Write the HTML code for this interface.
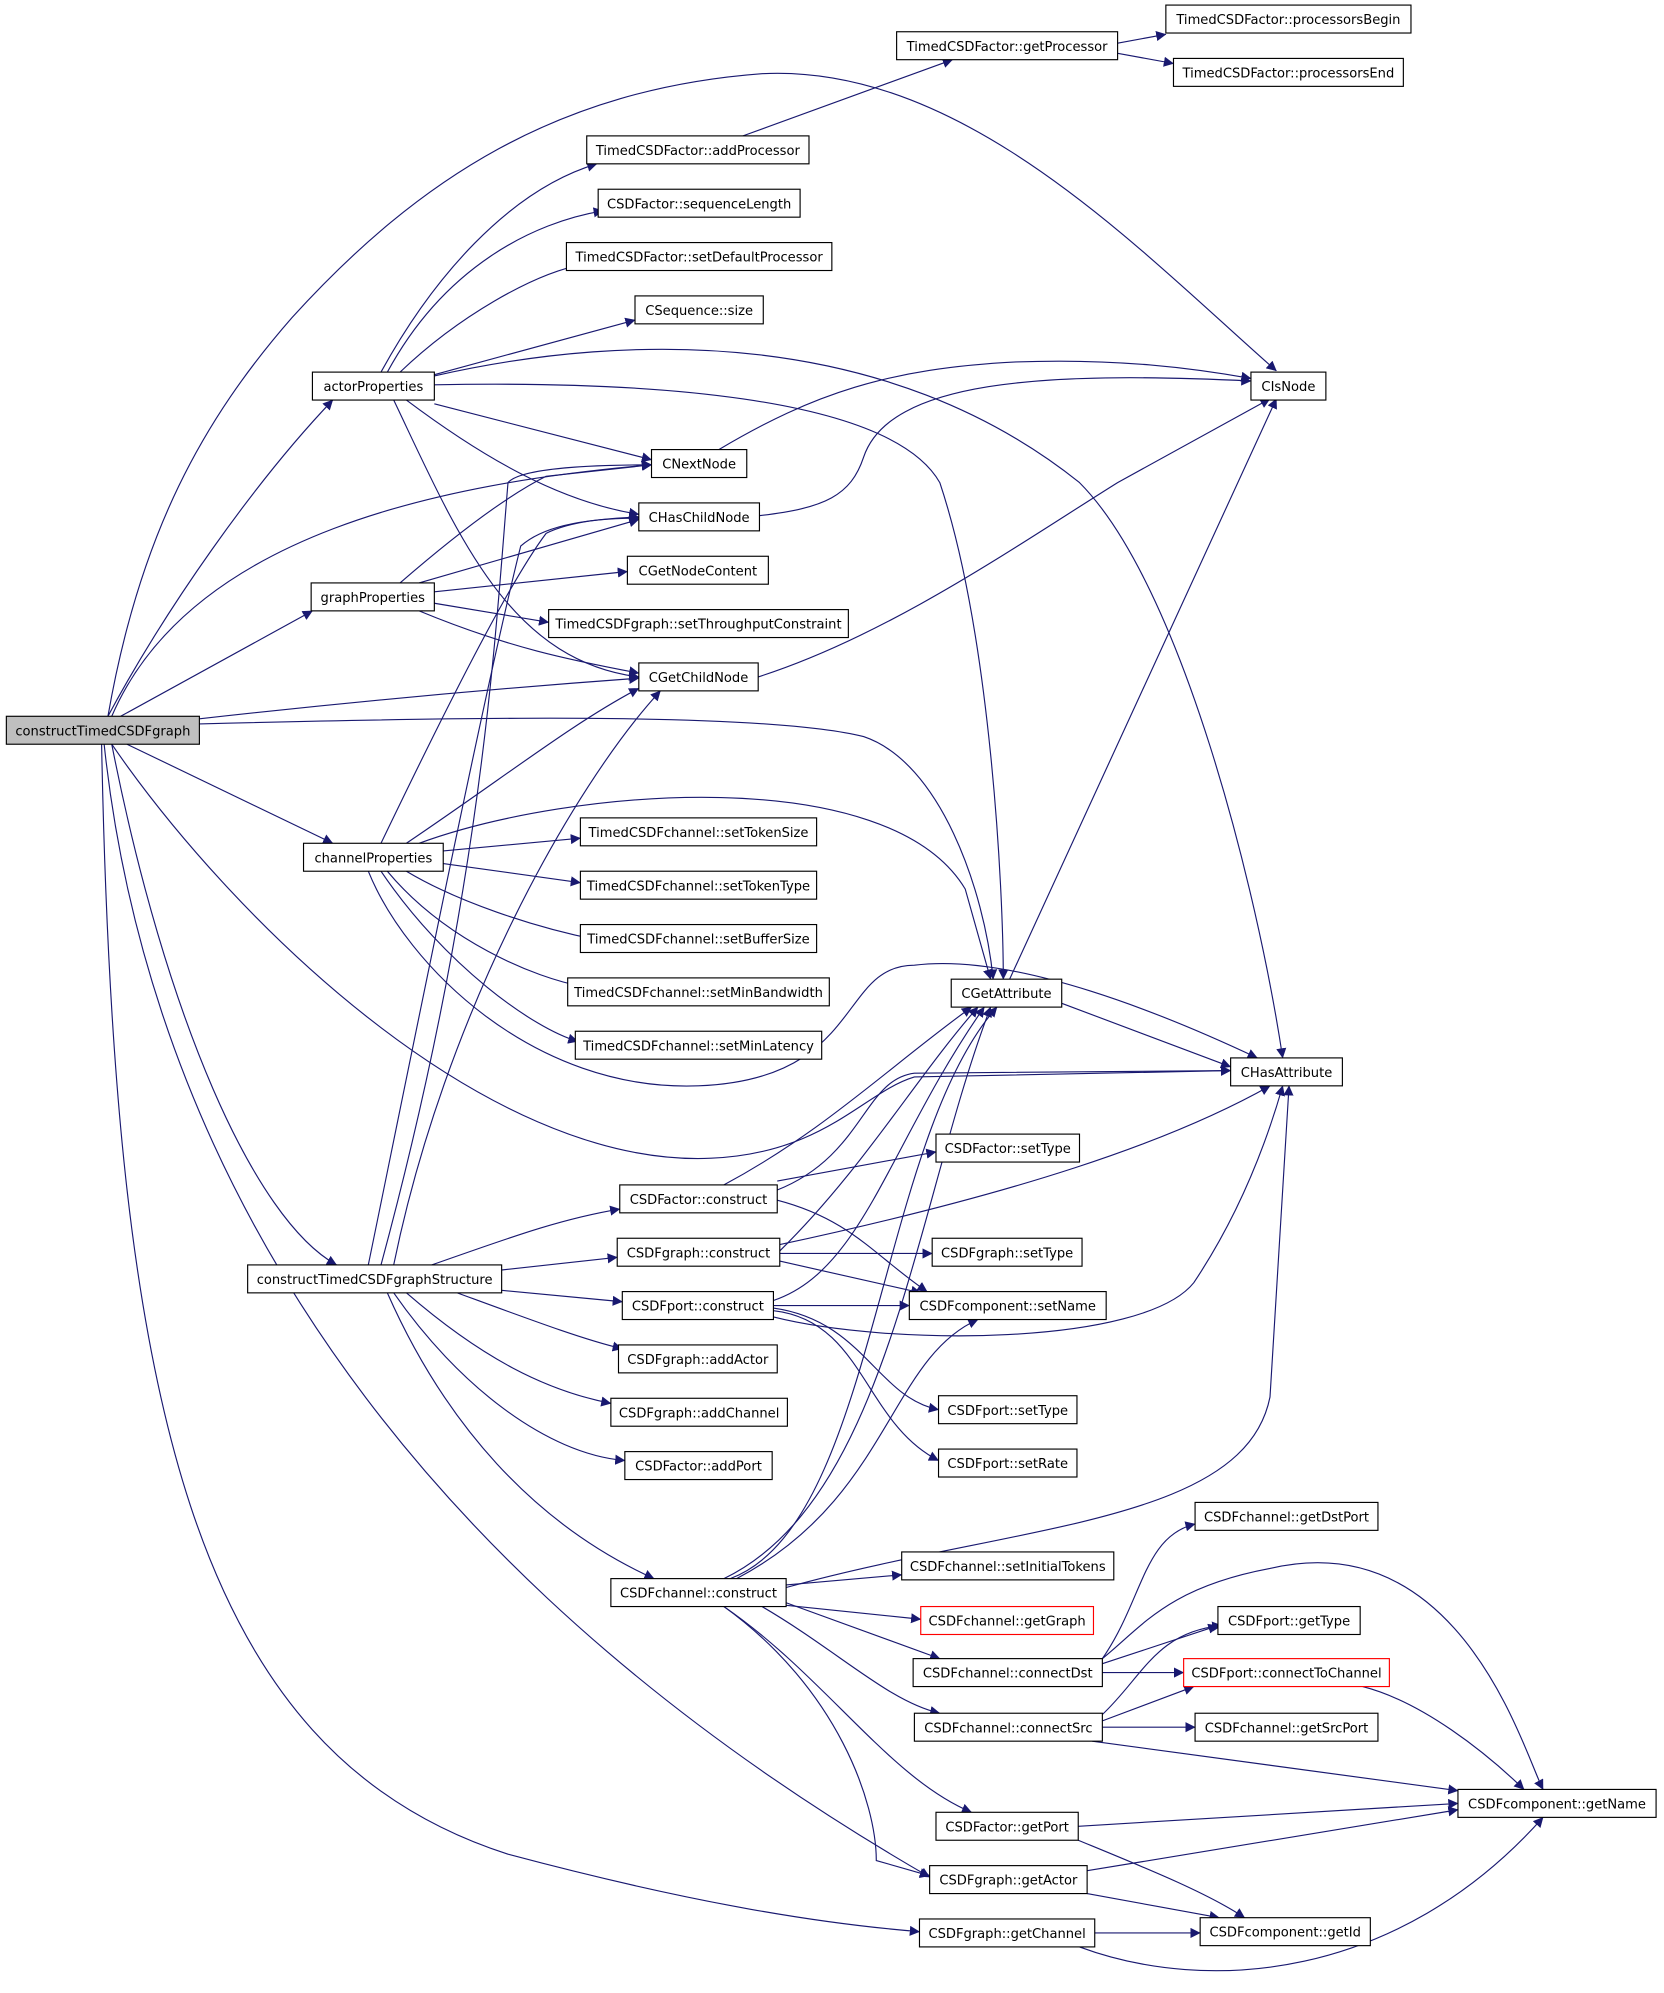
<!DOCTYPE html>
<html><head><meta charset="utf-8"><style>
html,body{margin:0;padding:0;background:#fff;}
svg{display:block;}
text{font-family:"DejaVu Sans","Liberation Sans",sans-serif;font-size:10.3px;fill:#000;}
.n rect{fill:#fff;stroke:#000;stroke-width:0.9;}
.e path{fill:none;stroke:#191970;stroke-width:0.9;}
</style></head><body>
<svg width="1664" height="1993" viewBox="0 0 1664 1993" xmlns="http://www.w3.org/2000/svg">
<defs><marker id="a" viewBox="0 0 10 10" refX="9.5" refY="5" markerWidth="8" markerHeight="8" markerUnits="userSpaceOnUse" orient="auto"><path d="M0,0 L10,5 L0,10 z" fill="#191970"/></marker></defs>
<g transform="scale(1.27)">
<g class="e">
<path marker-end="url(#a)" d="M85,564 C 130,480 200,380 262,315"/>
<path marker-end="url(#a)" d="M85,564 C 110,420 160,330 230,250 C 330,140 440,70 600,58 C 760,50 900,200 1005,292"/>
<path marker-end="url(#a)" d="M88,564 C 150,420 350,380 513,366"/>
<path marker-end="url(#a)" d="M95,564 L 246,481"/>
<path marker-end="url(#a)" d="M157,566 C 300,550 420,540 503,534"/>
<path marker-end="url(#a)" d="M157,570 C 350,565 600,560 680,580 C 740,600 775,700 782,771"/>
<path marker-end="url(#a)" d="M100,586 L 262,664"/>
<path marker-end="url(#a)" d="M88,586 C 180,720 380,920 560,912 C 650,908 680,860 720,848 L 969,843"/>
<path marker-end="url(#a)" d="M88,586 C 130,800 200,960 265,996"/>
<path marker-end="url(#a)" d="M82,586 C 110,850 250,1200 732,1478"/>
<path marker-end="url(#a)" d="M80,586 C 90,1100 150,1380 400,1460 C 550,1500 650,1515 724,1521"/>

<path marker-end="url(#a)" d="M300,293 C 340,220 400,150 470,129"/>
<path marker-end="url(#a)" d="M305,293 C 350,210 420,175 475,166"/>
<path marker-end="url(#a)" d="M315,293 C 360,250 420,215 460,208"/>
<path marker-end="url(#a)" d="M342,295 L 500,252"/>
<path marker-end="url(#a)" d="M342,303 C 500,300 700,310 740,380 C 780,500 790,700 790,771"/>
<path marker-end="url(#a)" d="M342,296 C 500,260 700,260 850,380 C 930,460 990,700 1010,833"/>
<path marker-end="url(#a)" d="M342,318 L 513,362"/>
<path marker-end="url(#a)" d="M320,315 C 380,360 440,395 503,405"/>
<path marker-end="url(#a)" d="M310,315 C 360,420 400,520 503,533"/>

<path marker-end="url(#a)" d="M585,107 L 750,47"/>
<path marker-end="url(#a)" d="M880,34 L 918,27"/>
<path marker-end="url(#a)" d="M880,42 L 924,50"/>

<path marker-end="url(#a)" d="M566,354 C 640,310 700,290 800,285 C 880,282 940,290 985,298"/>
<path marker-end="url(#a)" d="M598,406 C 650,400 670,390 680,360 C 700,300 820,292 985,300"/>
<path marker-end="url(#a)" d="M597,533 C 700,500 800,430 880,380 L 1000,314"/>

<path marker-end="url(#a)" d="M315,459 C 360,420 400,390 430,375 L 513,366"/>
<path marker-end="url(#a)" d="M330,459 L 503,409"/>
<path marker-end="url(#a)" d="M342,466 L 494,450"/>
<path marker-end="url(#a)" d="M342,475 L 432,490"/>
<path marker-end="url(#a)" d="M330,481 C 400,510 450,520 503,530"/>

<path marker-end="url(#a)" d="M300,664 C 350,560 400,460 430,420 C 450,410 480,408 503,407"/>
<path marker-end="url(#a)" d="M320,664 C 400,610 450,570 503,542"/>
<path marker-end="url(#a)" d="M330,664 C 450,620 700,600 760,700 L 780,771"/>
<path marker-end="url(#a)" d="M349,670 L 457,660"/>
<path marker-end="url(#a)" d="M349,680 L 457,695"/>
<path marker-end="url(#a)" d="M320,686 C 360,710 420,730 470,740"/>
<path marker-end="url(#a)" d="M305,686 C 350,740 420,770 460,777"/>
<path marker-end="url(#a)" d="M300,686 C 350,760 420,810 455,820"/>
<path marker-end="url(#a)" d="M290,686 C 320,760 420,860 550,855 C 680,850 660,760 720,760 C 800,750 920,800 990,833"/>

<path marker-end="url(#a)" d="M300,996 C 380,700 390,500 400,380 C 410,368 470,366 513,366"/>
<path marker-end="url(#a)" d="M290,996 C 320,850 380,550 410,430 C 430,412 470,408 503,408"/>
<path marker-end="url(#a)" d="M310,996 C 350,800 450,620 520,544"/>
<path marker-end="url(#a)" d="M340,996 C 400,975 440,960 488,952"/>
<path marker-end="url(#a)" d="M395,1000 L 486,990"/>
<path marker-end="url(#a)" d="M395,1016 L 490,1025"/>
<path marker-end="url(#a)" d="M360,1018 C 420,1040 460,1055 490,1062"/>
<path marker-end="url(#a)" d="M320,1018 C 380,1070 430,1095 481,1105"/>
<path marker-end="url(#a)" d="M310,1018 C 360,1090 430,1145 492,1150"/>
<path marker-end="url(#a)" d="M305,1018 C 350,1120 420,1200 515,1243"/>

<path marker-end="url(#a)" d="M570,933 C 650,890 700,840 765,793"/>
<path marker-end="url(#a)" d="M612,937 C 680,910 680,850 720,845 L 969,843"/>
<path marker-end="url(#a)" d="M612,930 L 737,907"/>
<path marker-end="url(#a)" d="M612,945 C 670,960 690,990 730,1017"/>
<path marker-end="url(#a)" d="M614,985 C 680,920 720,850 770,793"/>
<path marker-end="url(#a)" d="M614,980 C 800,940 920,900 1000,855"/>
<path marker-end="url(#a)" d="M614,987 L 734,987"/>
<path marker-end="url(#a)" d="M614,993 L 725,1018"/>
<path marker-end="url(#a)" d="M609,1024 C 680,1000 700,900 775,793"/>
<path marker-end="url(#a)" d="M609,1037 C 700,1060 900,1060 940,1010 C 980,950 1000,890 1010,855"/>
<path marker-end="url(#a)" d="M609,1028 L 716,1028"/>
<path marker-end="url(#a)" d="M609,1030 C 680,1040 690,1100 739,1110"/>
<path marker-end="url(#a)" d="M609,1032 C 680,1040 680,1120 739,1150"/>

<path marker-end="url(#a)" d="M570,1243 C 700,1180 720,950 780,793"/>
<path marker-end="url(#a)" d="M575,1243 C 690,1200 690,900 785,793"/>
<path marker-end="url(#a)" d="M619,1250 C 800,1200 980,1200 1000,1100 L 1015,855"/>
<path marker-end="url(#a)" d="M580,1243 C 700,1180 700,1070 770,1039"/>
<path marker-end="url(#a)" d="M619,1264 L 725,1275"/>
<path marker-end="url(#a)" d="M619,1248 L 710,1240"/>
<path marker-end="url(#a)" d="M619,1262 L 740,1306"/>
<path marker-end="url(#a)" d="M600,1265 C 660,1300 700,1340 740,1349"/>
<path marker-end="url(#a)" d="M570,1265 C 650,1320 700,1400 765,1427"/>
<path marker-end="url(#a)" d="M570,1265 C 660,1330 690,1420 690,1465 L 732,1477"/>

<path marker-end="url(#a)" d="M868,1306 C 900,1260 900,1210 941,1200"/>
<path marker-end="url(#a)" d="M868,1306 C 900,1280 920,1250 1000,1235 C 1150,1200 1200,1380 1215,1409"/>
<path marker-end="url(#a)" d="M868,1310 L 959,1280"/>
<path marker-end="url(#a)" d="M868,1317 L 932,1317"/>
<path marker-end="url(#a)" d="M868,1350 C 900,1320 910,1285 962,1280"/>
<path marker-end="url(#a)" d="M868,1355 L 940,1328"/>
<path marker-end="url(#a)" d="M868,1360 L 941,1360"/>
<path marker-end="url(#a)" d="M860,1371 L 1148,1410"/>
<path marker-end="url(#a)" d="M1073,1328 C 1120,1340 1170,1380 1200,1409"/>
<path marker-end="url(#a)" d="M849,1438 L 1148,1420"/>
<path marker-end="url(#a)" d="M849,1449 C 900,1470 950,1490 980,1510"/>
<path marker-end="url(#a)" d="M856,1473 L 1148,1425"/>
<path marker-end="url(#a)" d="M856,1491 L 960,1510"/>
<path marker-end="url(#a)" d="M862,1522 L 945,1522"/>
<path marker-end="url(#a)" d="M850,1533 C 950,1570 1100,1560 1215,1431"/>
<path marker-end="url(#a)" d="M795,771 L 1005,314"/>
<path marker-end="url(#a)" d="M836,790 L 969,840"/>
</g>
<g class="n">
<rect x="5" y="564" width="152" height="22" style="fill:#bfbfbf"/><text x="81" y="579" text-anchor="middle">constructTimedCSDFgraph</text>
<rect x="246" y="293" width="96" height="22"/><text x="294" y="308" text-anchor="middle">actorProperties</text>
<rect x="245" y="459" width="97" height="22"/><text x="293.5" y="474" text-anchor="middle">graphProperties</text>
<rect x="239" y="664" width="110" height="22"/><text x="294" y="679" text-anchor="middle">channelProperties</text>
<rect x="195" y="996" width="200" height="22"/><text x="295" y="1011" text-anchor="middle">constructTimedCSDFgraphStructure</text>
<rect x="706" y="25" width="174" height="22"/><text x="793" y="40" text-anchor="middle">TimedCSDFactor::getProcessor</text>
<rect x="918" y="4" width="193" height="22"/><text x="1014.5" y="19" text-anchor="middle">TimedCSDFactor::processorsBegin</text>
<rect x="924" y="46" width="181" height="22"/><text x="1014.5" y="61" text-anchor="middle">TimedCSDFactor::processorsEnd</text>
<rect x="462" y="107" width="175" height="22"/><text x="549.5" y="122" text-anchor="middle">TimedCSDFactor::addProcessor</text>
<rect x="471" y="149" width="159" height="22"/><text x="550.5" y="164" text-anchor="middle">CSDFactor::sequenceLength</text>
<rect x="446" y="191" width="209" height="22"/><text x="550.5" y="206" text-anchor="middle">TimedCSDFactor::setDefaultProcessor</text>
<rect x="500" y="233" width="101" height="22"/><text x="550.5" y="248" text-anchor="middle">CSequence::size</text>
<rect x="985" y="293" width="59" height="22"/><text x="1014.5" y="308" text-anchor="middle">CIsNode</text>
<rect x="513" y="354" width="75" height="22"/><text x="550.5" y="369" text-anchor="middle">CNextNode</text>
<rect x="503" y="396" width="95" height="22"/><text x="550.5" y="411" text-anchor="middle">CHasChildNode</text>
<rect x="494" y="438" width="111" height="22"/><text x="549.5" y="453" text-anchor="middle">CGetNodeContent</text>
<rect x="432" y="480" width="236" height="22"/><text x="550" y="495" text-anchor="middle">TimedCSDFgraph::setThroughputConstraint</text>
<rect x="503" y="522" width="94" height="22"/><text x="550" y="537" text-anchor="middle">CGetChildNode</text>
<rect x="457" y="644" width="186" height="22"/><text x="550" y="659" text-anchor="middle">TimedCSDFchannel::setTokenSize</text>
<rect x="457" y="686" width="186" height="22"/><text x="550" y="701" text-anchor="middle">TimedCSDFchannel::setTokenType</text>
<rect x="457" y="728" width="186" height="22"/><text x="550" y="743" text-anchor="middle">TimedCSDFchannel::setBufferSize</text>
<rect x="447" y="770" width="206" height="22"/><text x="550" y="785" text-anchor="middle">TimedCSDFchannel::setMinBandwidth</text>
<rect x="453" y="812" width="194" height="22"/><text x="550" y="827" text-anchor="middle">TimedCSDFchannel::setMinLatency</text>
<rect x="749" y="771" width="87" height="22"/><text x="792.5" y="786" text-anchor="middle">CGetAttribute</text>
<rect x="969" y="833" width="88" height="22"/><text x="1013" y="848" text-anchor="middle">CHasAttribute</text>
<rect x="737" y="893" width="113" height="22"/><text x="793.5" y="908" text-anchor="middle">CSDFactor::setType</text>
<rect x="488" y="933" width="124" height="22"/><text x="550" y="948" text-anchor="middle">CSDFactor::construct</text>
<rect x="734" y="975" width="118" height="22"/><text x="793" y="990" text-anchor="middle">CSDFgraph::setType</text>
<rect x="486" y="975" width="128" height="22"/><text x="550" y="990" text-anchor="middle">CSDFgraph::construct</text>
<rect x="716" y="1017" width="155" height="22"/><text x="793.5" y="1032" text-anchor="middle">CSDFcomponent::setName</text>
<rect x="490" y="1017" width="119" height="22"/><text x="549.5" y="1032" text-anchor="middle">CSDFport::construct</text>
<rect x="487" y="1059" width="125" height="22"/><text x="549.5" y="1074" text-anchor="middle">CSDFgraph::addActor</text>
<rect x="739" y="1099" width="109" height="22"/><text x="793.5" y="1114" text-anchor="middle">CSDFport::setType</text>
<rect x="481" y="1101" width="139" height="22"/><text x="550.5" y="1116" text-anchor="middle">CSDFgraph::addChannel</text>
<rect x="492" y="1143" width="116" height="22"/><text x="550" y="1158" text-anchor="middle">CSDFactor::addPort</text>
<rect x="739" y="1141" width="109" height="22"/><text x="793.5" y="1156" text-anchor="middle">CSDFport::setRate</text>
<rect x="941" y="1183" width="144" height="22"/><text x="1013" y="1198" text-anchor="middle">CSDFchannel::getDstPort</text>
<rect x="710" y="1222" width="167" height="22"/><text x="793.5" y="1237" text-anchor="middle">CSDFchannel::setInitialTokens</text>
<rect x="481" y="1243" width="138" height="22"/><text x="550" y="1258" text-anchor="middle">CSDFchannel::construct</text>
<rect x="725" y="1265" width="136" height="22" style="stroke:#ff0000"/><text x="793" y="1280" text-anchor="middle">CSDFchannel::getGraph</text>
<rect x="959" y="1265" width="112" height="22"/><text x="1015" y="1280" text-anchor="middle">CSDFport::getType</text>
<rect x="719" y="1306" width="149" height="22"/><text x="793.5" y="1321" text-anchor="middle">CSDFchannel::connectDst</text>
<rect x="932" y="1306" width="162" height="22" style="stroke:#ff0000"/><text x="1013" y="1321" text-anchor="middle">CSDFport::connectToChannel</text>
<rect x="720" y="1349" width="148" height="22"/><text x="794" y="1364" text-anchor="middle">CSDFchannel::connectSrc</text>
<rect x="941" y="1349" width="144" height="22"/><text x="1013" y="1364" text-anchor="middle">CSDFchannel::getSrcPort</text>
<rect x="1148" y="1409" width="156" height="22"/><text x="1226" y="1424" text-anchor="middle">CSDFcomponent::getName</text>
<rect x="737" y="1427" width="112" height="22"/><text x="793" y="1442" text-anchor="middle">CSDFactor::getPort</text>
<rect x="732" y="1469" width="124" height="22"/><text x="794" y="1484" text-anchor="middle">CSDFgraph::getActor</text>
<rect x="724" y="1511" width="138" height="22"/><text x="793" y="1526" text-anchor="middle">CSDFgraph::getChannel</text>
<rect x="945" y="1510" width="134" height="22"/><text x="1012" y="1525" text-anchor="middle">CSDFcomponent::getId</text>
</g>
</g>
</svg>
</body></html>
